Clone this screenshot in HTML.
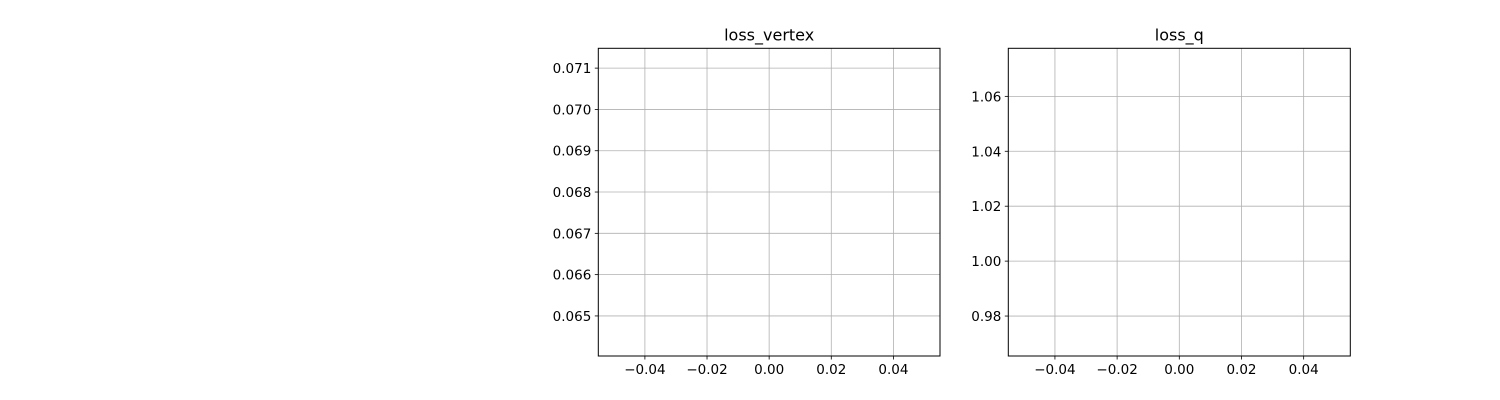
<!DOCTYPE html>
<html><head><meta charset="utf-8"><style>
body{margin:0;background:#fff}
svg{display:block;font-family:"DejaVu Sans","Liberation Sans",sans-serif}
</style></head><body>
<svg id="fig" width="1500" height="400"></svg>
<script>
const xTicks=[-0.04,-0.02,0.00,0.02,0.04];
const xTickLabels=["\u22120.04","\u22120.02","0.00","0.02","0.04"];
const yTicksVertex=[0.065,0.066,0.067,0.068,0.069,0.070,0.071];
const yTickLabelsVertex=["0.065","0.066","0.067","0.068","0.069","0.070","0.071"];
const yTicksQ=[0.98,1.00,1.02,1.04,1.06];
const yTickLabelsQ=["0.98","1.00","1.02","1.04","1.06"];
const titles=["loss_vertex","loss_q"];
const xDomain=[-0.055,0.055];
const yDomainVertex=[0.06403,0.07148];
const yDomainQ=[0.96545,1.0775];

const NS="http://www.w3.org/2000/svg";
const svg=document.getElementById('fig');
function mk(tag,attrs,parent){const e=document.createElementNS(NS,tag);for(const k in attrs)e.setAttribute(k,attrs[k]);(parent||svg).appendChild(e);return e;}
function panel(name,L,R,T,B,yDom,yT,yL,title){
  const g=mk('g',{});
  
  
  const sx=v=>L+(v-xDomain[0])/(xDomain[1]-xDomain[0])*(R-L);
  const sy=v=>B-(v-yDom[0])/(yDom[1]-yDom[0])*(B-T);
  xTicks.forEach((v,i)=>{
    const x=sx(v);
    const l=mk('line',{x1:x,x2:x,y1:T,y2:B,stroke:'#b0b0b0','stroke-width':0.8},g);
    
    
    mk('line',{x1:x,x2:x,y1:B,y2:B+3.5,stroke:'#000','stroke-width':0.8},g);
    const t=mk('text',{x:x,y:B+18,'text-anchor':'middle','font-size':13.5},g);
    
    
    t.textContent=xTickLabels[i];
  });
  yT.forEach((v,i)=>{
    const y=sy(v);
    const l=mk('line',{x1:L,x2:R,y1:y,y2:y,stroke:'#b0b0b0','stroke-width':0.8},g);
    
    
    mk('line',{x1:L-3.5,x2:L,y1:y,y2:y,stroke:'#000','stroke-width':0.8},g);
    const t=mk('text',{x:L-7,y:y+5,'text-anchor':'end','font-size':13.5},g);
    
    
    t.textContent=yL[i];
  });
  const f=mk('rect',{x:L,y:T,width:R-L,height:B-T,fill:'none',stroke:'#000','stroke-width':1},g);
  
  
  const tt=mk('text',{x:(L+R)/2,y:T-8,'text-anchor':'middle','font-size':16},g);
  
  
  tt.textContent=title;
}
panel('loss-vertex-panel',598.3,940,48.3,356,yDomainVertex,yTicksVertex,yTickLabelsVertex,titles[0]);
panel('loss-q-panel',1008.3,1350.3,48.3,356,yDomainQ,yTicksQ,yTickLabelsQ,titles[1]);
</script>
</body></html>
